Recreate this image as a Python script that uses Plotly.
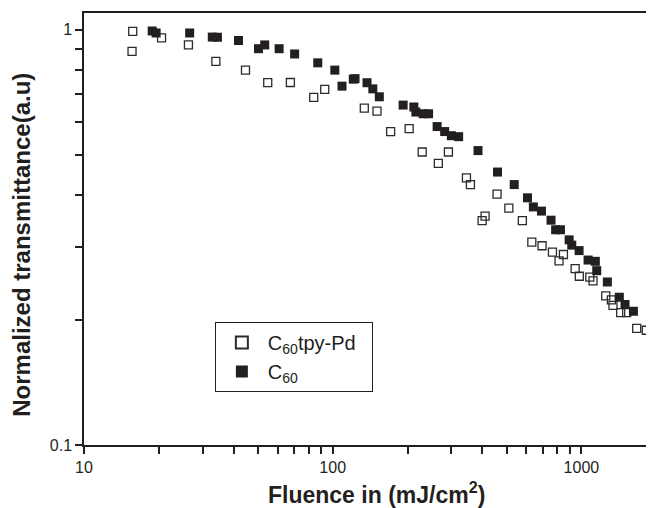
import plotly.graph_objects as go

# C60tpy-Pd (open squares)
pd_x = [15.7, 15.6, 20.5, 26.3, 33.9, 44.6, 54.8, 67.6, 83.9, 92.9, 134, 150.7,
        171, 203, 229, 292, 266, 345, 358, 410, 399, 458, 511, 579, 632, 695,
        765, 813, 847, 944, 981, 1081, 1114, 1253, 1320, 1340, 1439, 1521,
        1669, 1824, 1918]
pd_y = [0.992, 0.888, 0.957, 0.92, 0.84, 0.80, 0.746, 0.747, 0.688, 0.719, 0.648, 0.637,
        0.569, 0.578, 0.508, 0.508, 0.477, 0.44, 0.424, 0.356, 0.347, 0.402, 0.372, 0.347,
        0.308, 0.302, 0.2916, 0.2777, 0.2877, 0.266, 0.255, 0.2537, 0.2484, 0.2287, 0.2236,
        0.217, 0.2084, 0.2084, 0.191, 0.189, 0.183]

# C60 (filled squares)
c60_x = [18.8, 19.5, 26.6, 32.8, 34.4, 41.8, 50.3, 53.3, 60.9, 70.3, 87.1, 102, 109,
         121, 123, 137.4, 145, 154, 192, 212, 216, 231, 243, 263, 282, 300, 321, 384,
         460, 537, 607, 641, 691, 755, 788, 824, 893, 915, 979, 1064, 1138, 1153, 1272,
         1421, 1498, 1619]
c60_y = [0.994, 0.983, 0.983, 0.961, 0.96, 0.943, 0.901, 0.92, 0.901, 0.875, 0.833, 0.80,
         0.732, 0.761, 0.763, 0.746, 0.721, 0.69, 0.659, 0.652, 0.634, 0.628, 0.628, 0.585,
         0.569, 0.556, 0.553, 0.512, 0.4545, 0.424, 0.394, 0.3746, 0.366, 0.348, 0.33, 0.33,
         0.312, 0.303, 0.294, 0.279, 0.277, 0.263, 0.247, 0.227, 0.218, 0.21]

# ticks: every decade digit, labels only on the decades
x_ticks = [m * d for d in (10, 100, 1000) for m in range(1, 10)]
x_labels = [str(v) if m == 1 else "" for v, m in zip(x_ticks, [1, 2, 3, 4, 5, 6, 7, 8, 9] * 3)]
y_ticks = [m / 10 for m in range(1, 11)]
y_labels = ["0.1", "", "", "", "", "", "", "", "", "1"]

FONT = "Liberation Sans, Arial, sans-serif"
INK = "#231f20"

fig = go.Figure()

fig.add_trace(go.Scatter(
    x=pd_x, y=pd_y, mode="markers",
    name="C<sub>60</sub>tpy-Pd&nbsp;&nbsp;",
    marker=dict(symbol="square-open", size=8, color="#2b2b2b", line=dict(width=1.3))
))

fig.add_trace(go.Scatter(
    x=c60_x, y=c60_y, mode="markers",
    name="C<sub>60</sub>",
    marker=dict(symbol="square", size=9, color=INK)
))

# page body has an 8px margin, so the figure is shrunk by that much
fig.update_layout(
    width=646, height=500,
    margin=dict(l=76, r=1, t=5, b=63),
    paper_bgcolor="white", plot_bgcolor="white",
    font=dict(family=FONT, color=INK, size=16),
    showlegend=True,
    legend=dict(
        x=0.23, y=0.285, xanchor="left", yanchor="top",
        bordercolor=INK, borderwidth=1, bgcolor="white",
        font=dict(size=20, family=FONT), itemsizing="constant",
        tracegroupgap=0, itemwidth=42
    ),
    xaxis=dict(
        type="log", range=[1, 3.288],
        tickvals=x_ticks, ticktext=x_labels,
        ticks="outside", ticklen=7, tickwidth=1.5, tickcolor=INK,
        showline=True, linecolor=INK, linewidth=1.5, mirror=True,
        showgrid=False, zeroline=False,
    ),
    yaxis=dict(
        type="log", range=[-1, 0.0407],
        tickvals=y_ticks, ticktext=y_labels,
        ticks="outside", ticklen=7, tickwidth=1.5, tickcolor=INK,
        showline=True, linecolor=INK, linewidth=1.5,
        showgrid=False, zeroline=False,
    ),
    annotations=[
        dict(text="<b>Fluence in (mJ/cm<sup>2</sup>)</b>", xref="paper", yref="paper",
             x=0.514, y=0, yshift=-48, xanchor="center", yanchor="middle",
             showarrow=False, font=dict(size=23, family=FONT, color=INK)),
        dict(text="<b>Normalized transmittance(a.u)</b>", xref="paper", yref="paper",
             x=-0.109, y=0.4635, textangle=-90, xanchor="center", yanchor="middle",
             showarrow=False, font=dict(size=24, family=FONT, color=INK)),
    ],
)

fig.write_html("out.html")
